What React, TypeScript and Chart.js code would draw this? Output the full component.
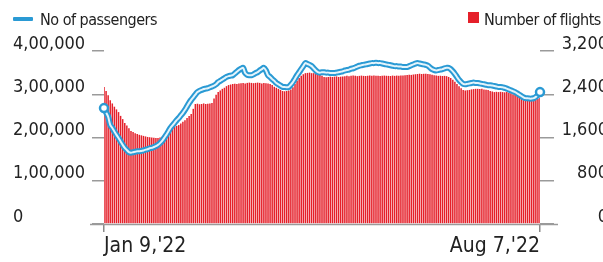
import React, { useEffect, useRef } from 'react';
import { Chart, registerables } from 'chart.js';

Chart.register(...registerables);

const FONT = "'DejaVu Sans Condensed', 'DejaVu Sans', sans-serif";

// Daily number of flights, Jan 9 – Aug 7, 2022 (right axis)
const flights: number[] = [
  2535, 2460, 2380, 2290, 2230, 2170, 2120, 2070, 2000, 1940,
  1870, 1820, 1770, 1720, 1700, 1680, 1665, 1650, 1640, 1630,
  1620, 1610, 1605, 1600, 1595, 1590, 1590, 1600, 1615, 1640,
  1670, 1700, 1740, 1770, 1800, 1815, 1830, 1860, 1890, 1920,
  1960, 2000, 2035, 2130, 2220, 2225, 2215, 2220, 2230, 2220,
  2225, 2230, 2240, 2320, 2390, 2440, 2470, 2500, 2520, 2550,
  2570, 2580, 2590, 2595, 2590, 2600, 2605, 2610, 2600, 2610,
  2615, 2610, 2605, 2610, 2615, 2610, 2600, 2610, 2605, 2600,
  2590, 2570, 2540, 2520, 2500, 2480, 2460, 2455, 2460, 2470,
  2490, 2530, 2590, 2650, 2700, 2740, 2770, 2790, 2795, 2800,
  2790, 2790, 2785, 2780, 2760, 2740, 2720, 2715, 2720, 2725,
  2720, 2725, 2730, 2720, 2725, 2730, 2735, 2740, 2735, 2740,
  2745, 2740, 2735, 2740, 2745, 2740, 2738, 2742, 2745, 2740,
  2745, 2740, 2742, 2738, 2740, 2745, 2742, 2740, 2738, 2745,
  2740, 2745, 2742, 2748, 2745, 2750, 2755, 2760, 2758, 2765,
  2770, 2775, 2780, 2775, 2778, 2780, 2775, 2770, 2760, 2750,
  2745, 2740, 2742, 2738, 2740, 2735, 2720, 2700, 2670, 2630,
  2590, 2550, 2510, 2480, 2470, 2475, 2480, 2490, 2495, 2500,
  2500, 2495, 2500, 2490, 2485, 2480, 2460, 2450, 2440, 2445,
  2440, 2445, 2440, 2435, 2440, 2430, 2420, 2400, 2385, 2370,
  2350, 2330, 2310, 2300, 2295, 2290, 2285, 2290, 2300, 2315,
  2330,
];

// Daily number of passengers, in thousands (left axis)
const passengers: number[] = [
  268, 258, 248, 229, 222, 214, 206, 199, 191, 183,
  176, 171, 166, 165, 166, 167, 168, 168, 169, 170,
  172, 173, 175, 176, 178, 180, 183, 187, 192, 199,
  206, 214, 222, 228, 234, 240, 245, 251, 257, 264,
  272, 280, 287, 293, 299, 305, 308, 310, 312, 313,
  314, 316, 318, 320, 323, 328, 331, 334, 337, 340,
  342, 343, 344, 348, 352, 356, 359, 361, 349, 345,
  344, 344, 346, 349, 351, 355, 358, 361, 355, 344,
  340, 335, 331, 326, 323, 320, 317, 317, 316, 317,
  322, 328, 336, 344, 351, 358, 365, 372, 370, 368,
  365, 360, 355, 351, 350, 351, 351, 350, 350, 349,
  349, 349, 350, 351, 352, 353, 355, 356, 357, 359,
  360, 362, 364, 366, 367, 368, 369, 370, 371, 372,
  372, 373, 372, 372, 371, 370, 369, 368, 367, 366,
  365, 365, 364, 364, 363, 363, 363, 365, 367, 369,
  371, 372, 371, 370, 369, 368, 366, 362, 358, 356,
  355, 356, 357, 358, 360, 361, 361, 358, 353, 347,
  340, 333, 328, 324, 323, 324, 325, 326, 327, 326,
  326, 325, 324, 323, 322, 321, 321, 320, 319, 318,
  317, 317, 316, 315, 313, 311, 309, 307, 305, 302,
  299, 296, 293, 291, 291, 290, 290, 291, 294, 298,
  305,
];

const xTickLabels = ["Jan 9,'22", "Aug 7,'22"];
const leftTickLabels = ['0', '1,00,000', '2,00,000', '3,00,000', '4,00,000'];
const rightTickLabels = ['0', '800', '1,600', '2,400', '3,200'];
const MONTHS = ['Jan', 'Feb', 'Mar', 'Apr', 'May', 'Jun', 'Jul', 'Aug', 'Sep', 'Oct', 'Nov', 'Dec'];

const BLUE = '#2a9ad4';
const RED = '#e5202a';

export default function App() {
  const ref = useRef<HTMLCanvasElement>(null);

  useEffect(() => {
    if (!ref.current) return;
    const last = flights.length - 1;
    const categories = flights.map((_, i) => {
      const d = new Date(2022, 0, 9 + i);
      return `${MONTHS[d.getMonth()]} ${d.getDate()},'22`;
    });
    const endPoints = passengers.map((v, i) => (i === 0 || i === last ? v : null));

    const baseline = {
      id: 'baseline',
      afterDatasetsDraw(chart: any) {
        const { ctx, chartArea: a } = chart;
        ctx.save();
        ctx.strokeStyle = '#9a9a9a';
        ctx.lineWidth = 1.5;
        ctx.beginPath();
        ctx.moveTo(a.left - 14, a.bottom + 0.5);
        ctx.lineTo(a.right + 18, a.bottom + 0.5);
        ctx.stroke();
        ctx.restore();
      },
    };

    const chart = new Chart(ref.current, {
      type: 'bar',
      data: {
        labels: categories,
        datasets: [
          {
            type: 'bar',
            data: flights,
            yAxisID: 'y1',
            backgroundColor: RED,
            barPercentage: 1,
            categoryPercentage: 0.72,
            order: 4,
          } as any,
          {
            type: 'line',
            data: passengers,
            yAxisID: 'y',
            borderColor: BLUE,
            borderWidth: 6,
            pointRadius: 0,
            tension: 0.3,
            order: 3,
            clip: false,
          } as any,
          {
            type: 'line',
            data: passengers,
            yAxisID: 'y',
            borderColor: '#e4f4fb',
            borderWidth: 2,
            pointRadius: 0,
            tension: 0.3,
            order: 2,
            clip: false,
          } as any,
          {
            type: 'line',
            data: endPoints,
            yAxisID: 'y',
            showLine: false,
            pointRadius: 4,
            pointBorderWidth: 2.5,
            pointBackgroundColor: '#ffffff',
            pointBorderColor: BLUE,
            order: 1,
            clip: false,
          } as any,
        ],
      },
      options: {
        animation: false,
        responsive: false,
        layout: { padding: { left: 5, right: 20, top: 43, bottom: 0 } },
        plugins: { legend: { display: false }, tooltip: { enabled: false } },
        scales: {
          x: {
            offset: false,
            grid: {
              offset: false,
              drawOnChartArea: false,
              drawTicks: true,
              tickLength: 8,
              color: '#8a8a8a',
              lineWidth: 1.5,
            },
            border: { display: false },
            ticks: {
              autoSkip: false,
              maxRotation: 0,
              align: 'inner',
              padding: 2,
              color: '#222',
              font: { family: FONT, size: 21 },
              callback: (_v: any, i: number) =>
                i === 0 ? xTickLabels[0] : i === last ? xTickLabels[1] : null,
            },
            afterFit: (s: any) => {
              s.height = 38;
            },
          } as any,
          y: {
            position: 'left',
            min: 0,
            max: 400,
            ticks: {
              stepSize: 100,
              crossAlign: 'far',
              labelOffset: -7,
              padding: 4,
              color: '#222',
              font: { family: FONT, size: 18 },
              callback: (v: any) => leftTickLabels[Math.round(v / 100)],
            },
            grid: { drawOnChartArea: false, tickLength: 12, color: '#9a9a9a', lineWidth: 1.5 },
            border: { display: false },
            afterFit: (s: any) => {
              s.width = 91;
            },
          } as any,
          y1: {
            position: 'right',
            min: 0,
            max: 3200,
            ticks: {
              stepSize: 800,
              crossAlign: 'far',
              labelOffset: -7,
              padding: 2,
              color: '#222',
              font: { family: FONT, size: 18 },
              callback: (v: any) => rightTickLabels[Math.round(v / 800)],
            },
            grid: { drawOnChartArea: false, tickLength: 14, color: '#9a9a9a', lineWidth: 1.5 },
            border: { display: false },
            afterFit: (s: any) => {
              s.width = 68;
            },
          } as any,
        },
      },
      plugins: [baseline],
    });
    return () => chart.destroy();
  }, []);

  const legendText: React.CSSProperties = {
    position: 'absolute',
    top: 12,
    fontFamily: FONT,
    fontSize: 16,
    lineHeight: '16px',
    letterSpacing: '-0.5px',
    color: '#222',
    whiteSpace: 'nowrap',
  };

  return (
    <div
      style={{
        position: 'fixed',
        left: 0,
        top: 0,
        width: 603,
        height: 262,
        overflow: 'hidden',
        background: '#ffffff',
      }}
    >
      <canvas
        ref={ref}
        width={620}
        height={254}
        style={{ position: 'absolute', left: 8, top: 8, display: 'block' }}
      />
      <div style={{ position: 'absolute', left: 13, top: 17, width: 20, height: 4, background: BLUE, borderRadius: 1 }} />
      <div style={{ ...legendText, left: 40 }}>No of passengers</div>
      <div style={{ position: 'absolute', left: 468, top: 12, width: 11, height: 11, background: RED }} />
      <div style={{ ...legendText, left: 484 }}>Number of flights</div>
    </div>
  );
}
